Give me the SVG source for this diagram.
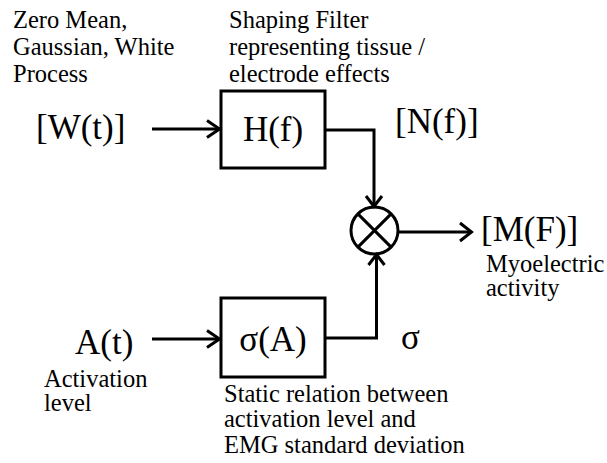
<svg xmlns="http://www.w3.org/2000/svg" width="607" height="463" viewBox="0 0 607 463">
<style>
.s{font-size:24.5px}
.b{font-size:35px}
.box{fill:#fff;stroke:#000;stroke-width:3}
.ln{fill:none;stroke:#000;stroke-width:3}
.ah{fill:none;stroke:#000;stroke-width:3;stroke-linejoin:miter}
</style>
<rect width="607" height="463" fill="#fff"/>
<g font-family="Liberation Serif, Times New Roman, DejaVu Serif, serif" fill="#000">
<g id="label-white">
<text class="s" x="13" y="28">Zero Mean,</text>
<text class="s" x="13" y="55">Gaussian, White</text>
<text class="s" x="13" y="82">Process</text>
<text class="b" x="36" y="139">[W(t)]</text>
</g>
<g id="label-filter">
<text class="s" x="229" y="28">Shaping Filter</text>
<text class="s" x="229" y="55">representing tissue /</text>
<text class="s" x="229" y="82">electrode effects</text>
</g>
<g id="node-H">
<rect class="box" x="221" y="91" width="104" height="77"/>
<text class="b" x="273" y="141" text-anchor="middle">H(f)</text>
</g>
<g id="label-N">
<text class="b" x="395" y="133">[N(f)]</text>
</g>
<g id="node-mult">
<circle class="ln" cx="374.5" cy="230.5" r="23.5"/>
<path class="ln" d="M357.9 213.9L391.1 247.1M391.1 213.9L357.9 247.1"/>
</g>
<g id="label-M">
<text class="b" x="481" y="241">[M(F)]</text>
<text class="s" x="486" y="272">Myoelectric</text>
<text class="s" x="486" y="296">activity</text>
</g>
<g id="label-A">
<text class="b" x="75" y="354">A(t)</text>
<text class="s" x="44" y="387">Activation</text>
<text class="s" x="44" y="411">level</text>
</g>
<g id="node-sigma">
<rect class="box" x="221" y="298" width="104" height="79"/>
<text class="b" x="273" y="351" text-anchor="middle">σ(A)</text>
<text class="s" x="224" y="402">Static relation between</text>
<text class="s" x="224" y="427">activation level and</text>
<text class="s" x="224" y="453">EMG standard deviation</text>
</g>
<g id="label-sigma">
<text class="b" x="401" y="349">σ</text>
</g>
</g>
<g id="connectors">
<path class="ln" d="M152 129H219"/>
<path class="ah" d="M207 120.5L219.5 129L207 137.5"/>
<path class="ln" d="M325 130H374V206"/>
<path class="ah" d="M366 196L374 206.5L382 196"/>
<path class="ln" d="M398 232H471"/>
<path class="ah" d="M460 223L471.5 232L460 241"/>
<path class="ln" d="M152 339H219"/>
<path class="ah" d="M207 330.5L219.5 339L207 347.5"/>
<path class="ln" d="M325 338H376.5V255"/>
<path class="ah" d="M368.5 265L376.5 254.5L384.5 265"/>
</g>
</svg>
